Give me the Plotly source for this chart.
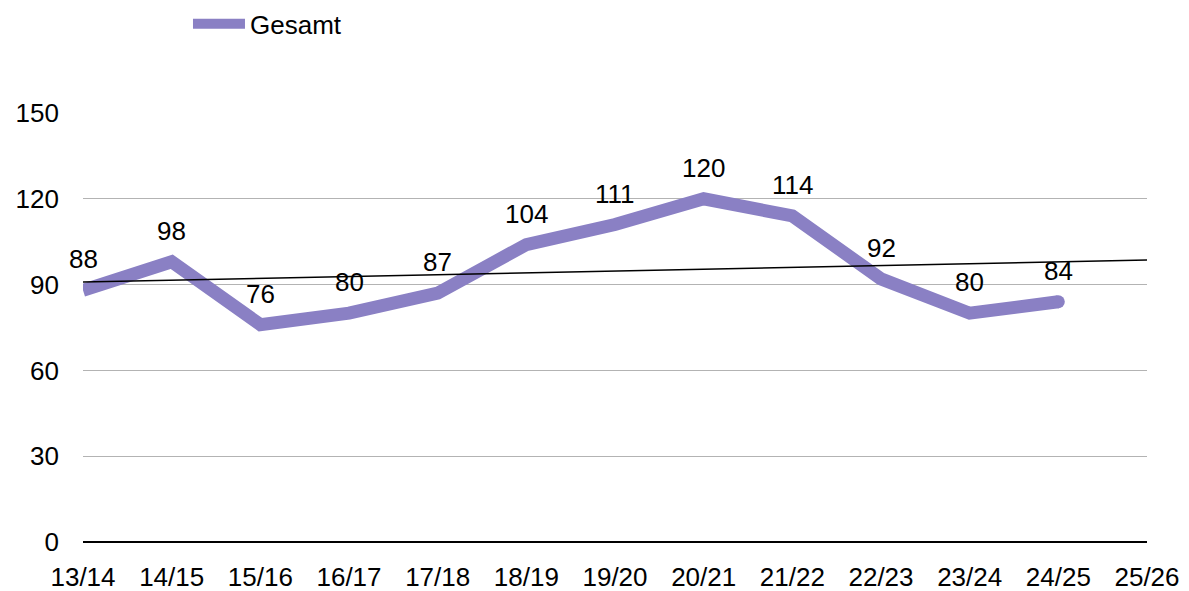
import plotly.graph_objects as go

seasons = ["13/14", "14/15", "15/16", "16/17", "17/18", "18/19", "19/20",
           "20/21", "21/22", "22/23", "23/24", "24/25", "25/26"]
gesamt = [88, 98, 76, 80, 87, 104, 111, 120, 114, 92, 80, 84]
trend_x = ["13/14", "25/26"]
trend_y = [90.9, 98.6]
y_ticks = [0, 30, 60, 90, 120, 150]

COLOR = "#8a80c4"
FONT = "Liberation Sans, Arial, sans-serif"
FS = 26

xi = {s: i for i, s in enumerate(seasons)}

fig = go.Figure()
fig.add_trace(go.Scatter(
    x=[xi[s] for s in seasons[:len(gesamt)]], y=gesamt, mode="lines",
    line=dict(color=COLOR, width=13), name="Gesamt",
))
# round end cap at last point
fig.add_trace(go.Scatter(
    x=[xi[seasons[len(gesamt) - 1]]], y=[gesamt[-1]], mode="markers",
    marker=dict(color=COLOR, size=13), showlegend=False, hoverinfo="skip",
))
fig.add_trace(go.Scatter(
    x=[xi[s] for s in trend_x], y=trend_y, mode="lines",
    line=dict(color="black", width=1.5), showlegend=False, hoverinfo="skip",
))

for s, v in zip(seasons, gesamt):
    fig.add_annotation(x=xi[s], y=v, text=str(v), showarrow=False,
                       yshift=31, font=dict(size=FS, color="black", family=FONT))

fig.update_layout(
    width=1181, height=583,
    margin=dict(l=75, r=42, t=105, b=49, autoexpand=False),
    paper_bgcolor="white", plot_bgcolor="white",
    font=dict(family=FONT, size=FS, color="black"),
    showlegend=True,
    legend=dict(orientation="h", x=0.1524, y=0.9726, xanchor="left", yanchor="middle",
                font=dict(size=FS), itemwidth=52, bgcolor="rgba(0,0,0,0)",
                yref="container", xref="container"),
    xaxis=dict(
        range=[0, len(seasons) - 1], tickmode="array",
        tickvals=list(range(len(seasons))), ticktext=seasons,
        showgrid=False, zeroline=False, showline=False, automargin=False,
        ticklabelstandoff=17, tickfont=dict(size=FS),
    ),
    yaxis=dict(
        range=[0, 150], tickmode="array", tickvals=y_ticks,
        showgrid=True, gridcolor="#b3b3b3", gridwidth=1, automargin=False,
        zeroline=True, zerolinecolor="black", zerolinewidth=2,
        showline=False, ticklabelstandoff=23, tickfont=dict(size=FS),
    ),
)

fig.write_html("out.html")
